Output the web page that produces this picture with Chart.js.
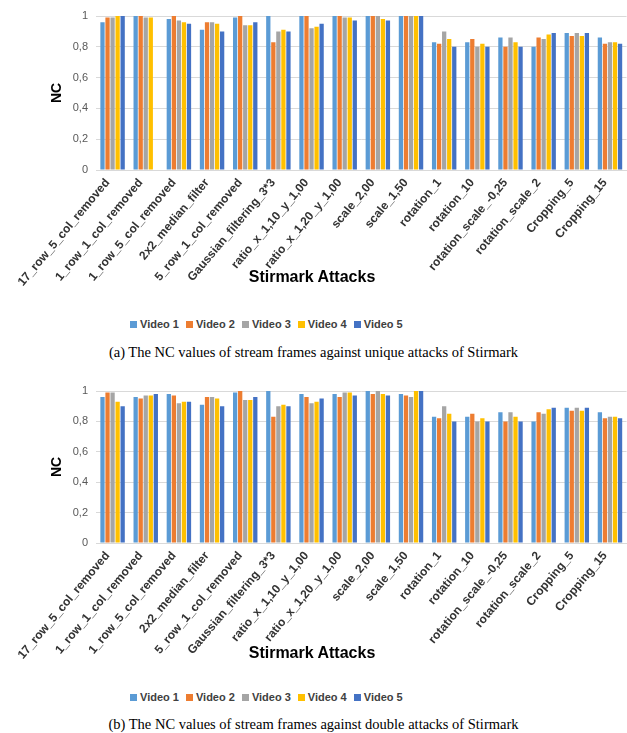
<!DOCTYPE html>
<html>
<head>
<meta charset="utf-8">
<script src="https://cdn.jsdelivr.net/npm/chart.js@4.4.1/dist/chart.umd.min.js"></script>
<style>
  html, body { margin: 0; padding: 0; background: #ffffff; }
  body { width: 627px; height: 733px; position: relative; overflow: hidden; font-family: "Liberation Sans", Arial, sans-serif; }
  .box { position: absolute; left: 0; width: 627px; }
  .xtitle { position: absolute; font: bold 16px "Liberation Sans", Arial, sans-serif; color: #000; transform: translate(-50%, -50%); white-space: nowrap; }
  .legend { position: absolute; display: flex; gap: 7px; transform: translateY(-50%); font: bold 11px "Liberation Sans", Arial, sans-serif; color: #404040; }
  .legend span.item { display: flex; align-items: center; white-space: nowrap; }
  .legend span.sw { display: inline-block; width: 7px; height: 7px; margin-right: 3px; }
  .caption { position: absolute; left: 0; width: 627px; text-align: center; font: 14.5px "Liberation Serif", "DejaVu Serif", serif; color: #000; transform: translateY(-50%); white-space: nowrap; }
</style>
</head>
<body>
<div class="box" style="top:0;height:295px"><canvas id="chartUnique"></canvas></div>
<div class="xtitle" style="left:312px;top:277px">Stirmark Attacks</div>
<div class="legend" id="legendUnique" style="left:130px;top:324px"></div>
<div class="caption" style="top:352px">(a) The NC values of stream frames against unique attacks of Stirmark</div>

<div class="box" style="top:375px;height:295px"><canvas id="chartDouble"></canvas></div>
<div class="xtitle" style="left:312px;top:653px">Stirmark Attacks</div>
<div class="legend" id="legendDouble" style="left:130px;top:697px"></div>
<div class="caption" style="top:724px">(b) The NC values of stream frames against double attacks of Stirmark</div>

<script>
// Stirmark attack names (x categories)
const attacks = [
  '17_row_5_col_removed', '1_row_1_col_removed', '1_row_5_col_removed', '2x2_median_filter',
  '5_row_1_col_removed', 'Gaussian_filtering_3*3', 'ratio_x_1,10_y_1,00', 'ratio_x_1,20_y_1,00',
  'scale_2,00', 'scale_1,50', 'rotation_1', 'rotation_10', 'rotation_scale_-0,25',
  'rotation_scale_2', 'Cropping_5', 'Cropping_15'
];

const seriesNames = ['Video 1', 'Video 2', 'Video 3', 'Video 4', 'Video 5'];
const seriesColors = ['#5B9BD5', '#ED7D31', '#A5A5A5', '#FFC000', '#4472C4'];

// y tick labels (decimal comma)
const yTickLabels = ['0', '0,2', '0,4', '0,6', '0,8', '1'];

// NC values, unique attacks
const uniqueV1 = [0.96, 1.00, 0.98, 0.91, 0.99, 1.00, 1.00, 1.00, 1.00, 1.00, 0.83, 0.83, 0.86, 0.80, 0.89, 0.86];
const uniqueV2 = [0.99, 1.00, 1.00, 0.96, 1.00, 0.83, 1.00, 1.00, 1.00, 1.00, 0.82, 0.85, 0.80, 0.86, 0.87, 0.82];
const uniqueV3 = [0.99, 0.99, 0.97, 0.96, 0.94, 0.90, 0.92, 0.99, 1.00, 1.00, 0.90, 0.80, 0.86, 0.85, 0.89, 0.83];
const uniqueV4 = [1.00, 0.99, 0.96, 0.95, 0.94, 0.91, 0.93, 0.99, 0.98, 1.00, 0.85, 0.82, 0.83, 0.88, 0.87, 0.83];
const uniqueV5 = [1.00, null, 0.95, 0.90, 0.96, 0.90, 0.95, 0.97, 0.97, 1.00, 0.80, 0.80, 0.80, 0.89, 0.89, 0.82];

// NC values, double attacks
const doubleV1 = [0.96, 0.96, 0.98, 0.91, 0.99, 1.00, 0.98, 0.98, 1.00, 0.98, 0.83, 0.83, 0.86, 0.80, 0.89, 0.86];
const doubleV2 = [0.99, 0.95, 0.97, 0.96, 1.00, 0.83, 0.96, 0.96, 0.98, 0.97, 0.82, 0.85, 0.80, 0.86, 0.87, 0.82];
const doubleV3 = [0.99, 0.97, 0.92, 0.96, 0.94, 0.90, 0.92, 0.99, 1.00, 0.96, 0.90, 0.80, 0.86, 0.85, 0.89, 0.83];
const doubleV4 = [0.93, 0.97, 0.93, 0.95, 0.94, 0.91, 0.93, 0.99, 0.98, 1.00, 0.85, 0.82, 0.83, 0.88, 0.87, 0.83];
const doubleV5 = [0.90, 0.98, 0.93, 0.90, 0.96, 0.90, 0.95, 0.97, 0.97, 1.00, 0.80, 0.80, 0.80, 0.89, 0.89, 0.82];

function buildLegend(id) {
  const el = document.getElementById(id);
  seriesNames.forEach((name, i) => {
    const item = document.createElement('span');
    item.className = 'item';
    const sw = document.createElement('span');
    sw.className = 'sw';
    sw.style.background = seriesColors[i];
    item.appendChild(sw);
    item.appendChild(document.createTextNode(name));
    el.appendChild(item);
  });
}

function makeChart(canvasId, seriesList, xAxisHeight) {
  const datasets = seriesList.map((vals, i) => ({
    label: seriesNames[i],
    data: vals,
    backgroundColor: seriesColors[i],
    borderWidth: 0,
    categoryPercentage: 0.76,
    barPercentage: 0.85
  }));
  return new Chart(document.getElementById(canvasId), {
    type: 'bar',
    data: { labels: attacks, datasets },
    options: {
      responsive: true,
      maintainAspectRatio: false,
      animation: false,
      layout: { padding: { top: 16, left: 45, right: 0, bottom: 0 } },
      plugins: { legend: { display: false }, tooltip: { enabled: false } },
      scales: {
        x: {
          grid: { display: false, drawTicks: false },
          border: { display: true, color: '#d9d9d9', width: 1 },
          ticks: {
            autoSkip: false,
            minRotation: 50,
            maxRotation: 50,
            padding: 6,
            labelOffset: -5,
            color: '#333333',
            font: { family: '"Liberation Sans", Arial, sans-serif', size: 12, weight: 'bold' }
          },
          afterFit(scale) { scale.height = xAxisHeight; }
        },
        y: {
          min: 0,
          max: 1,
          grid: { color: '#d9d9d9', lineWidth: 1, drawTicks: false },
          border: { display: false },
          ticks: {
            stepSize: 0.2,
            padding: 8,
            color: '#595959',
            font: { family: '"Liberation Sans", Arial, sans-serif', size: 11 },
            callback: (v, idx) => yTickLabels[idx]
          },
          title: {
            display: true,
            text: 'NC',
            color: '#000000',
            font: { family: '"Liberation Sans", Arial, sans-serif', size: 14, weight: 'bold' }
          },
          afterFit(scale) { scale.width = 51; }
        }
      }
    }
  });
}

buildLegend('legendUnique');
buildLegend('legendDouble');
makeChart('chartUnique', [uniqueV1, uniqueV2, uniqueV3, uniqueV4, uniqueV5], 125);
makeChart('chartDouble', [doubleV1, doubleV2, doubleV3, doubleV4, doubleV5], 127);
</script>
</body>
</html>
